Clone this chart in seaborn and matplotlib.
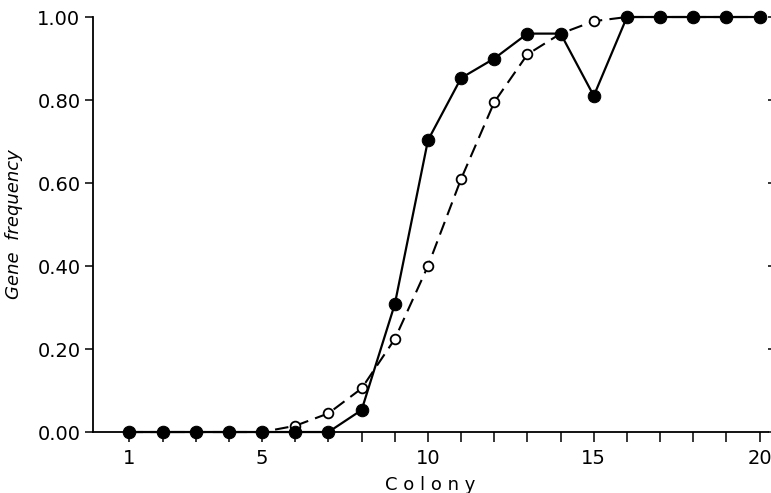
import matplotlib
matplotlib.use("Agg")
import matplotlib.pyplot as plt
import seaborn as sns
import numpy as np
import pandas as pd

colony = list(range(1, 21))
solid_freq = [0.0, 0.0, 0.0, 0.0, 0.0, 0.0, 0.0, 0.053, 0.308, 0.703, 0.853, 0.90,
              0.96, 0.96, 0.81, 1.0, 1.0, 1.0, 1.0, 1.0]
open_freq = [0.0, 0.0, 0.0, 0.0, 0.0, 0.015, 0.045, 0.105, 0.224, 0.40, 0.61, 0.795,
             0.91, 0.96, 0.99, 1.0, 1.0, 1.0, 1.0, 1.0]
yticks = [0.0, 0.2, 0.4, 0.6, 0.8, 1.0]
ytick_labels = ["0.00", "0.20", "0.40", "0.60", "0.80", "1.00"]
xticks_labeled = [1, 5, 10, 15, 20]

sns.set_style("white")
plt.rcParams['font.family'] = ['DejaVu Sans']
plt.rcParams['text.color'] = 'black'
plt.rcParams['axes.labelcolor'] = 'black'

fig = plt.figure(figsize=(7.71, 4.93), dpi=100)
ax = fig.add_axes([0.1206, 0.1237, 0.996 - 0.1206, 0.8418])

df_open = pd.DataFrame({"Colony": colony, "freq": open_freq})
df_solid = pd.DataFrame({"Colony": colony, "freq": solid_freq})

sns.lineplot(data=df_open, x="Colony", y="freq", ax=ax, color="black",
             linewidth=1.5, linestyle=(0, (6.5, 3.5)), marker="o", markersize=7,
             markerfacecolor="white", markeredgecolor="black", markeredgewidth=1.3,
             zorder=2, clip_on=False)
sns.lineplot(data=df_solid, x="Colony", y="freq", ax=ax, color="black",
             linewidth=1.6, marker="o", markersize=9,
             markerfacecolor="black", markeredgecolor="black", zorder=3,
             clip_on=False)

ax.set_xlim(-0.1, 20.25)
ax.set_ylim(0, 1.0)
ax.set_xticks(colony)
ax.set_xticklabels([str(c) if c in xticks_labeled else "" for c in colony])
ax.set_yticks(yticks)
ax.set_yticklabels(ytick_labels)

for s in ["top", "right"]:
    ax.spines[s].set_visible(False)
for s in ["left", "bottom"]:
    ax.spines[s].set_color("black")
    ax.spines[s].set_linewidth(1.3)

ax.yaxis.set_ticks_position("both")
ax.tick_params(axis="y", which="both", direction="out", length=6, width=1.1,
               labelsize=14, pad=3, colors="black")
ax.tick_params(axis="y", right=True, labelright=False, direction="in", length=5)
ax.tick_params(axis="y", left=True, direction="out", length=6)
ax.tick_params(axis="x", direction="out", length=7, width=1.1, labelsize=14,
               pad=5, colors="black", bottom=True)

ax.set_xlabel("C o l o n y", fontsize=13, labelpad=6, color="black")
ax.set_ylabel("Gene  frequency", fontsize=13, style="italic", labelpad=10,
              color="black")

fig.savefig("out.png", dpi=100)
